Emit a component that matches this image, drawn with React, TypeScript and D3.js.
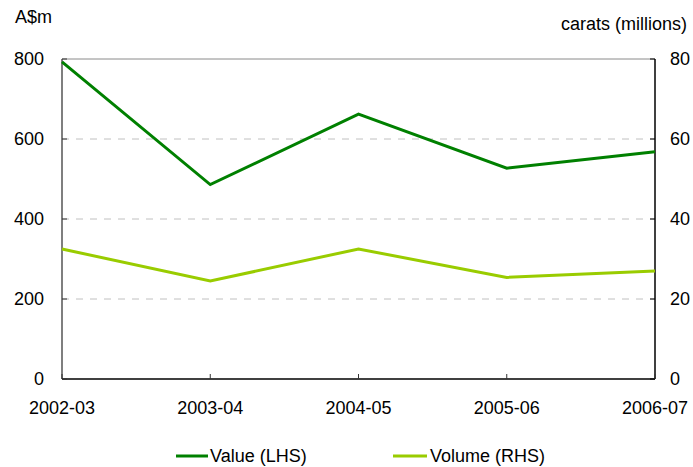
import React from 'react';
import * as d3 from 'd3';

const years = ['2002-03', '2003-04', '2004-05', '2005-06', '2006-07'];
const valueLHS = [793, 486, 662, 527, 568];
const volumeRHS = [32.5, 24.5, 32.5, 25.4, 27.0];
const leftTicks = [0, 200, 400, 600, 800];
const rightTicks = [0, 20, 40, 60, 80];

const W = 693;
const H = 467;
const margin = { top: 59, right: 38, bottom: 88, left: 62 };
const font = '"Liberation Sans", Arial, sans-serif';
const fs = 18;

const App = () => {
  const innerW = W - margin.left - margin.right;
  const innerH = H - margin.top - margin.bottom;

  const x = d3.scalePoint<string>().domain(years).range([0, innerW]);
  const yL = d3.scaleLinear().domain([0, 800]).range([innerH, 0]);
  const yR = d3.scaleLinear().domain([0, 80]).range([innerH, 0]);

  const lineL = d3.line<number>().x((_, i) => x(years[i])!).y(d => yL(d));
  const lineR = d3.line<number>().x((_, i) => x(years[i])!).y(d => yR(d));

  return (
    <div style={{ position: 'absolute', left: 0, top: 0 }}>
      <svg width={W} height={H} style={{ display: 'block', fontFamily: font }}>
        <rect width={W} height={H} fill="#fff" />
        <text x={15} y={23} fontSize={fs} fill="#000">A$m</text>
        <text x={687} y={30} fontSize={fs} fill="#000" textAnchor="end">carats (millions)</text>
        <g transform={`translate(${margin.left},${margin.top})`}>
          {leftTicks.filter(t => t > 0 && t < 800).map(t => (
            <line key={t} x1={0} x2={innerW} y1={yL(t)} y2={yL(t)} stroke="#c0c0c0" strokeDasharray="7,7" />
          ))}
          <line x1={0} x2={innerW} y1={0} y2={0} stroke="#8a8a8a" />
          <line x1={0} x2={0} y1={0} y2={innerH} stroke="#555" strokeWidth={1.5} />
          <line x1={innerW} x2={innerW} y1={0} y2={innerH} stroke="#000" strokeWidth={1.5} />
          <line x1={0} x2={innerW} y1={innerH} y2={innerH} stroke="#000" strokeWidth={1.5} />
          {leftTicks.map(t => (
            <g key={`l${t}`}>
              <line x1={0} x2={5} y1={yL(t)} y2={yL(t)} stroke="#333" />
              <text x={-18} y={yL(t)} dy="0.35em" textAnchor="end" fontSize={fs}>{t}</text>
            </g>
          ))}
          {rightTicks.map(t => (
            <g key={`r${t}`}>
              <line x1={innerW - 5} x2={innerW} y1={yR(t)} y2={yR(t)} stroke="#000" />
              <text x={innerW + 15} y={yR(t)} dy="0.35em" textAnchor="start" fontSize={fs}>{t}</text>
            </g>
          ))}
          {years.map(yr => (
            <g key={yr}>
              <line x1={x(yr)!} x2={x(yr)!} y1={innerH} y2={innerH - 5} stroke="#333" />
              <text x={x(yr)!} y={innerH + 35} textAnchor="middle" fontSize={fs}>{yr}</text>
            </g>
          ))}
          <path d={lineR(volumeRHS)!} fill="none" stroke="#99cc00" strokeWidth={3} />
          <path d={lineL(valueLHS)!} fill="none" stroke="#008000" strokeWidth={3} />
        </g>
        <g transform="translate(0,456)">
          <line x1={176} x2={208} y1={0} y2={0} stroke="#008000" strokeWidth={3} />
          <text x={210} y={6} fontSize={fs}>Value (LHS)</text>
          <line x1={393} x2={427} y1={0} y2={0} stroke="#99cc00" strokeWidth={3} />
          <text x={430} y={6} fontSize={fs}>Volume (RHS)</text>
        </g>
      </svg>
    </div>
  );
};

export default App;
